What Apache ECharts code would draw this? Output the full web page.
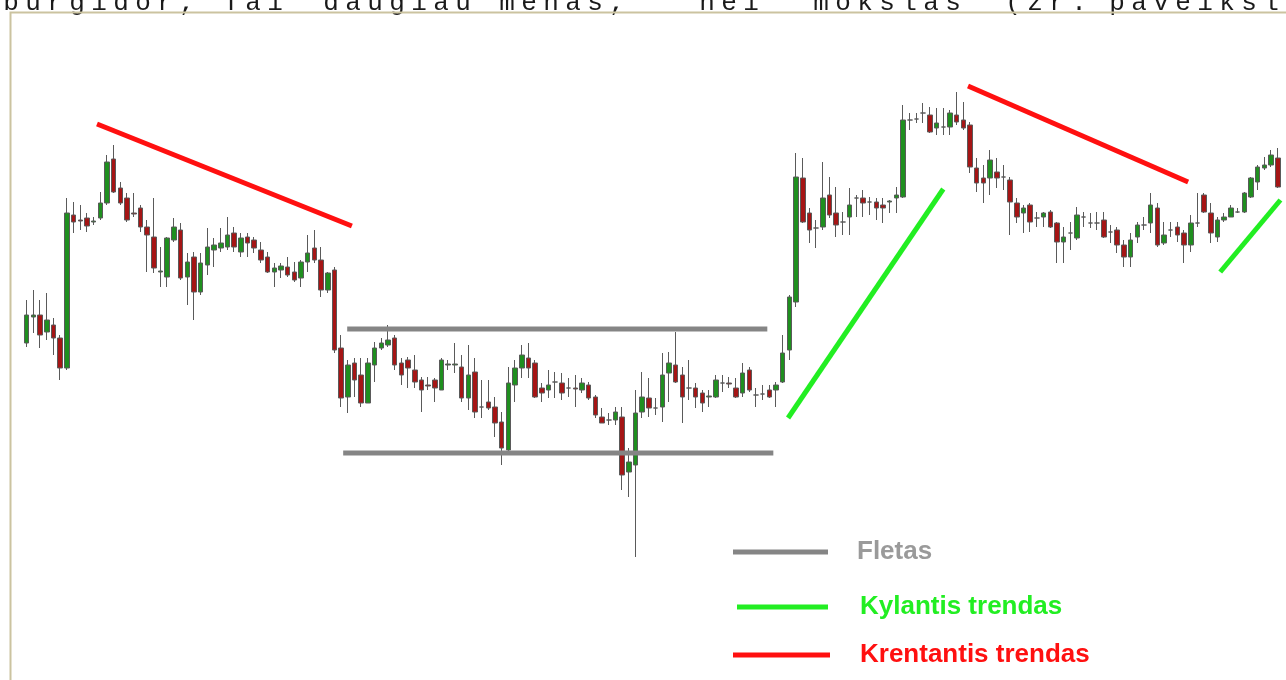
<!DOCTYPE html>
<html><head><meta charset="utf-8">
<script src="https://cdn.jsdelivr.net/npm/echarts@6.0.0/dist/echarts.min.js"></script>
<style>html,body{margin:0;padding:0;background:#fff;overflow:hidden}#c{width:1286px;height:680px}</style>
</head><body><div id="c"></div>
<script>
// Heading (cut off at the top of the picture)
const headingWords = ['burgidor,', 'Tai', 'daugiau', 'menas,', 'nei', 'mokslas', '(žr.', 'paveiksl'];

// Candles: [open, close, low, high] in price points
const candles = [
[337,365,333,380],[363,365,347,390],[365,345,332,380],[348,360,340,387],[355,342,325,362],
[342,312,300,345],[312,467,310,482],[465,458,447,478],[460,459,450,475],[462,454,448,467],
[458,459,455,463],[462,477,460,488],[477,518,475,525],[521,488,487,535],[492,477,475,498],
[482,460,458,487],[467,466,463,487],[472,453,448,475],[453,445,408,460],[443,412,407,482],
[408,409,393,433],[403,442,393,443],[440,453,438,462],[450,402,400,457],[403,418,375,427],
[423,388,360,428],[388,417,385,427],[415,433,405,452],[430,435,413,442],[432,437,428,452],
[433,445,430,463],[447,433,428,453],[428,442,423,447],[443,437,423,447],[440,432,427,443],
[430,420,417,438],[423,408,407,428],[408,412,393,417],[410,414,402,417],[413,405,403,423],
[408,400,398,418],[402,418,393,420],[418,427,408,445],[432,420,417,450],[420,390,383,433],
[390,407,387,408],[410,330,327,413],[332,282,273,345],[283,315,267,320],[317,300,283,322],
[305,277,273,322],[277,317,277,322],[315,332,298,338],[332,337,330,342],[335,340,333,355],
[342,315,310,345],[317,305,295,322],[320,312,292,323],[310,298,292,325],[300,290,268,303],
[295,294,290,303],[300,292,278,302],[290,320,290,322],[315,316,310,320],[315,316,307,337],
[313,282,278,325],[282,305,270,335],[308,268,262,322],[273,273,262,300],[278,272,270,300],
[273,257,243,283],[258,232,215,268],[230,297,228,313],[295,312,278,320],[312,325,302,335],
[322,312,302,337],[317,283,282,320],[292,287,278,297],[290,295,282,310],[298,298,282,308],
[297,287,280,307],[292,292,283,302],[292,291,273,305],[290,297,287,302],[295,282,280,298],
[283,265,262,285],[263,257,257,272],[260,260,255,267],[260,268,255,273],[263,205,190,273],
[208,218,183,232],[215,267,123,290],[268,283,262,308],[282,272,263,302],[272,272,265,282],
[273,305,258,327],[307,317,278,328],[315,298,297,348],[305,283,257,313],[292,292,280,320],
[292,283,272,297],[287,277,268,290],[283,284,273,290],[283,300,282,305],[297,297,288,305],
[297,296,292,303],[292,283,282,302],[287,307,283,317],[310,290,288,313],[285,285,273,292],
[286,286,280,295],[290,283,282,295],[290,295,273,298],[298,327,297,345],[330,383,320,385],
[378,503,373,527],[502,458,457,522],[467,450,437,472],[452,452,432,460],[453,482,450,518],
[485,465,462,503],[467,455,443,493],[458,458,445,468],[463,475,445,492],[482,482,463,485],
[482,477,463,490],[478,478,465,483],[478,472,460,482],[475,472,457,482],[478,479,467,480],
[482,485,467,493],[483,560,482,575],[560,560,550,567],[561,561,557,567],[567,567,557,577],
[565,548,547,573],[552,557,545,572],[553,553,545,572],[553,567,545,570],[565,558,555,588],
[560,552,550,578],[555,513,507,558],[512,497,488,522],[502,497,477,515],[502,520,485,530],
[508,502,492,522],[503,503,490,515],[500,478,445,503],[477,463,457,482],[467,472,447,475],
[475,458,448,477],[462,462,453,468],[463,467,453,468],[468,453,452,470],[457,438,417,458],
[438,443,417,453],[447,447,430,458],[442,465,440,473],[463,463,453,468],[457,457,452,467],
[457,457,450,468],[460,443,442,468],[448,448,437,455],[450,435,427,453],[435,423,413,440],
[423,440,413,447],[443,455,437,458],[455,455,450,463],[457,475,447,487],[472,435,433,477],
[437,445,435,458],[450,450,443,458],[453,445,438,458],[447,435,417,450],[435,457,428,465],
[457,457,453,487],[485,468,467,487],[467,447,437,477],[443,460,438,463],[460,463,458,467],
[463,472,463,475],[468,468,467,472],[468,487,467,488],[483,502,482,503],[498,513,490,515],
[512,515,510,523],[515,525,513,530],[522,493,492,532]
];
const categories = candles.map((_, i) => String(i + 1));

// Drawn lines: [candle index, price] end points
const rangeTop    = [[47.9, 351], [110.7, 351]];
const rangeBottom = [[47.3, 227], [111.6, 227]];
const upTrend1    = [[113.8, 262], [137.0, 491]];
const upTrend2    = [[178.4, 408], [187.4, 480]];
const downTrend1  = [[10.5, 556], [48.6, 454]];
const downTrend2  = [[140.7, 594], [173.6, 498]];

const legendNames = ['Fletas', 'Kylantis trendas', 'Krentantis trendas'];

const GRAY = '#858585', GREEN = '#22ee22', RED = '#ff1010';

const chart = echarts.init(document.getElementById('c'), null, {renderer: 'canvas'});

const heading = [];
const wordStarts = [0, 220, 320, 496, 696, 810, 1002, 1106];
const CHAR_STEP = 22;
headingWords.forEach((w, wi) => {
  [...w].forEach((ch, ci) => {
    heading.push({
      type: 'text', silent: true,
      style: {text: ch, x: wordStarts[wi] + ci * CHAR_STEP + 11, y: 16,
        font: '26px "Liberation Mono", monospace', fill: '#1a1a1a',
        align: 'center', verticalAlign: 'bottom'}
    });
  });
});

function lineSeries(name, data, color) {
  return {
    type: 'line', name, data, xAxisIndex: 1, yAxisIndex: 0,
    symbol: 'none', silent: true, animation: false, z: 5, color,
    lineStyle: {width: 5, color, cap: 'butt'}
  };
}

const legendBase = {
  orient: 'vertical', icon: 'rect', padding: 0, selectedMode: false,
  textStyle: {fontSize: 26, fontWeight: 'bold', fontFamily: '"Liberation Sans", Arial, sans-serif', lineHeight: 30}
};

chart.setOption({
  animation: false,
  backgroundColor: '#fff',
  grid: {left: 23.4, right: 4.9, top: 0, bottom: 0, containLabel: false},
  xAxis: [
    {type: 'category', data: categories, show: false, boundaryGap: true},
    {type: 'value', min: -0.5, max: candles.length - 0.5, show: false}
  ],
  yAxis: [{type: 'value', min: 0, max: 680, show: false}],
  legend: [
    Object.assign({}, legendBase, {left: 733, top: 537, itemWidth: 95, itemHeight: 5,
      data: [{name: legendNames[0], textStyle: {color: '#9a9a9a', padding: [0, 0, 0, 24]}}]}),
    Object.assign({}, legendBase, {left: 737, top: 592, itemWidth: 91, itemHeight: 5,
      data: [{name: legendNames[1], textStyle: {color: GREEN, padding: [0, 0, 0, 27]}}]}),
    Object.assign({}, legendBase, {left: 733, top: 640, itemWidth: 97, itemHeight: 5,
      data: [{name: legendNames[2], textStyle: {color: RED, padding: [0, 0, 0, 25]}}]})
  ],
  graphic: [
    {type: 'rect', silent: true, z: 10,
      shape: {x: 10.5, y: 12.5, width: 1300, height: 700},
      style: {fill: null, stroke: '#cbc3a0', lineWidth: 2}},
    ...heading
  ],
  series: [
    {
      type: 'candlestick', name: 'Kaina', data: candles, xAxisIndex: 0, yAxisIndex: 0,
      barWidth: 5, silent: true, z: 2,
      itemStyle: {
        color: '#1f8f1f', color0: '#a51515',
        borderColor: '#5a5a5a', borderColor0: '#5a5a5a', borderColorDoji: '#5a5a5a',
        borderWidth: 1
      }
    },
    lineSeries(legendNames[0], rangeTop, GRAY),
    lineSeries(legendNames[0], rangeBottom, GRAY),
    lineSeries(legendNames[1], upTrend1, GREEN),
    lineSeries(legendNames[1], upTrend2, GREEN),
    lineSeries(legendNames[2], downTrend1, RED),
    lineSeries(legendNames[2], downTrend2, RED)
  ]
});
</script></body></html>
